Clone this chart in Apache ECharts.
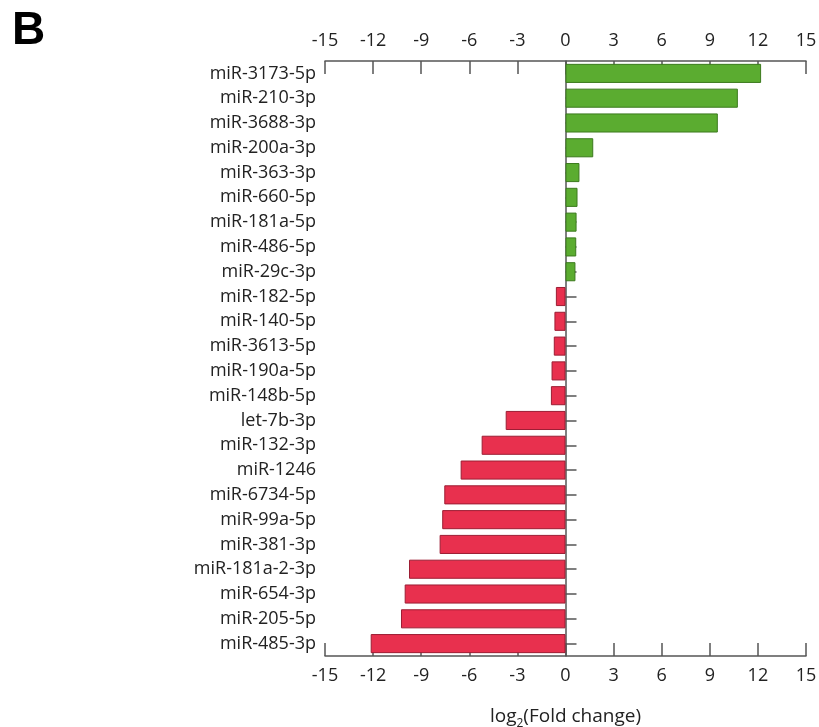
<!DOCTYPE html>
<html>
<head>
<meta charset="utf-8">
<script src="https://cdn.jsdelivr.net/npm/echarts@6/dist/echarts.min.js"></script>
<style>
  html, body { margin: 0; padding: 0; background: #fff; }
  #chart { width: 819px; height: 727px; }
</style>
</head>
<body>
<div id="chart"></div>
<script>
// miRNA names, top to bottom
const mirnas = [
  "miR-3173-5p", "miR-210-3p", "miR-3688-3p", "miR-200a-3p", "miR-363-3p",
  "miR-660-5p", "miR-181a-5p", "miR-486-5p", "miR-29c-3p", "miR-182-5p",
  "miR-140-5p", "miR-3613-5p", "miR-190a-5p", "miR-148b-5p", "let-7b-3p",
  "miR-132-3p", "miR-1246", "miR-6734-5p", "miR-99a-5p", "miR-381-3p",
  "miR-181a-2-3p", "miR-654-3p", "miR-205-5p", "miR-485-3p"
];
// log2 fold change
const log2fc = [
  12.2, 10.75, 9.5, 1.73, 0.87,
  0.75, 0.69, 0.67, 0.62, -0.6,
  -0.69, -0.73, -0.87, -0.91, -3.73,
  -5.23, -6.54, -7.56, -7.69, -7.85,
  -9.76, -10.03, -10.26, -12.15
];
const xTicks = [-15, -12, -9, -6, -3, 0, 3, 6, 9, 12, 15];

const upColor = "#5bac30";
const upBorder = "#3c7a1e";
const downColor = "#e8304e";
const downBorder = "#9c1d33";
const axisColor = "#555";
const font = "Open Sans";

const chart = echarts.init(document.getElementById("chart"));

function valueAxis(pos) {
  return {
    type: "value",
    position: pos,
    min: xTicks[0],
    max: xTicks[xTicks.length - 1],
    interval: 3,
    axisLine: { show: true, onZero: false, lineStyle: { color: axisColor, width: 1.5 } },
    axisTick: { show: true, inside: true, length: 13, lineStyle: { color: axisColor, width: 1.5 } },
    axisLabel: { margin: 11, color: "#222", fontSize: 18, fontFamily: font },
    splitLine: { show: false }
  };
}

const bottomAxis = valueAxis("bottom");
bottomAxis.name = "{a|log}{s|2}{a|(Fold change)}";
bottomAxis.nameLocation = "middle";
bottomAxis.nameGap = 48;
bottomAxis.nameTextStyle = {
  rich: {
    a: { fontSize: 19, color: "#222", fontFamily: font },
    s: { fontSize: 12, color: "#222", fontFamily: font, padding: [14, 0, 0, 0] }
  }
};

chart.setOption({
  backgroundColor: "#fff",
  animation: false,
  graphic: [{
    type: "text",
    left: 12,
    top: 8,
    style: { text: "B", fontSize: 46, fontWeight: "bold", fontFamily: "Liberation Sans", fill: "#000" }
  }],
  grid: { left: 325, right: 13, top: 61, bottom: 71, outerBoundsMode: "none" },
  xAxis: [valueAxis("top"), bottomAxis],
  yAxis: [
    {
      // labels on the left
      type: "category",
      data: mirnas,
      inverse: true,
      position: "left",
      axisLine: { show: false, onZero: false },
      axisTick: { show: false },
      axisLabel: { margin: 9, color: "#222", fontSize: 18, fontFamily: font }
    },
    {
      // zero line with ticks to the right
      type: "category",
      data: mirnas,
      inverse: true,
      position: "right",
      axisLine: { show: true, onZero: true, onZeroAxisIndex: 0, lineStyle: { color: axisColor, width: 1.5 } },
      axisTick: { show: true, alignWithLabel: true, length: 11, lineStyle: { color: axisColor, width: 1.5 } },
      axisLabel: { show: false }
    }
  ],
  series: [{
    type: "bar",
    xAxisIndex: 0,
    yAxisIndex: 0,
    barWidth: "77%",
    data: log2fc.map(v => ({
      value: v,
      itemStyle: {
        color: v >= 0 ? upColor : downColor,
        borderColor: v >= 0 ? upBorder : downBorder,
        borderWidth: 1
      }
    }))
  }]
});
</script>
</body>
</html>
